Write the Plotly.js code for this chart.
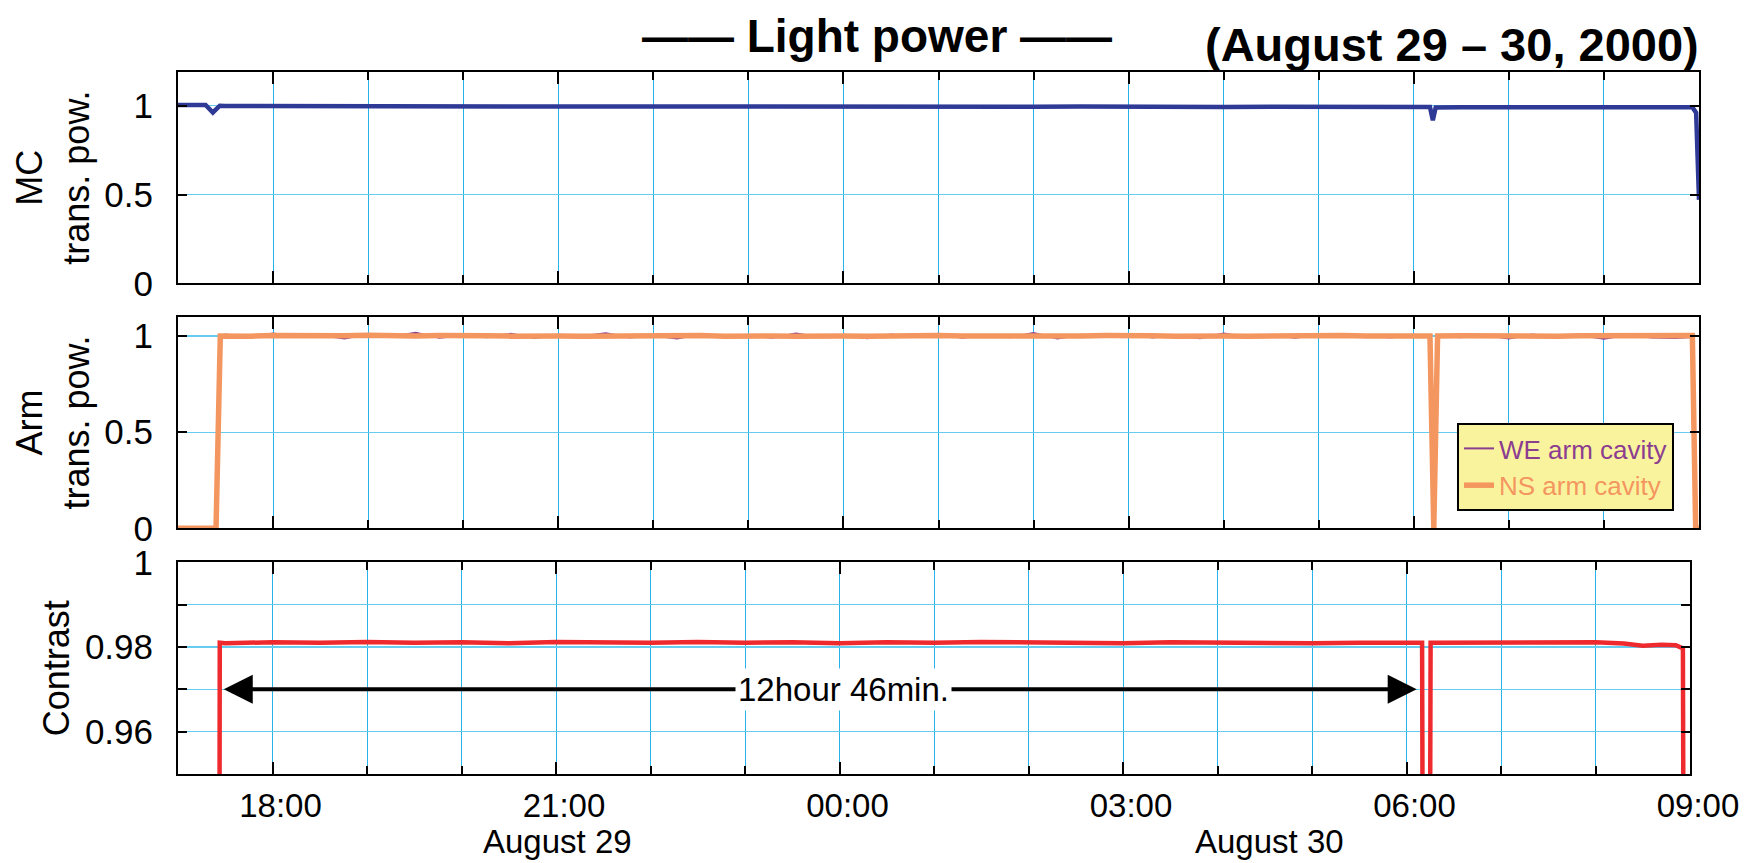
<!DOCTYPE html>
<html>
<head>
<meta charset="utf-8">
<script src="https://cdn.plot.ly/plotly-3.0.1.min.js"></script>
<style>html,body{margin:0;padding:0;background:#fff;}#chart{width:1753px;height:863px;}</style>
</head>
<body>
<div id="chart"></div>
<script>
// ---------- data (time in hours after 2000-08-29 17:00) ----------
const mcHours = [0, 0.29, 0.367, 0.44, 0.5,
  1, 1.5, 2, 2.5, 3, 3.5, 4, 4.5, 5, 5.5,
  6, 6.5, 7, 7.5, 8, 8.5, 9, 9.5, 10, 10.5,
  11, 11.5, 12, 12.5, 13,
  13.17, 13.2, 13.23,
  13.5, 14, 14.5, 15, 15.5,
  15.93, 15.97, 16];
const mcValues = [1.004, 1.004, 0.962, 1.000, 0.999,
  0.998, 0.999, 0.997, 0.998, 0.996, 0.997, 0.996, 0.997, 0.995, 0.996,
  0.995, 0.994, 0.995, 0.994, 0.995, 0.993, 0.994, 0.995, 0.993, 0.994,
  0.993, 0.994, 0.993, 0.994, 0.993,
  0.993, 0.918, 0.990,
  0.991, 0.990, 0.991, 0.990, 0.991,
  0.992, 0.960, 0.470];

const armHours = [0, 0.40, 0.445,
  0.5, 0.75, 1, 1.25, 1.5, 1.75, 2, 2.25, 2.5, 2.75,
  3, 3.25, 3.5, 3.75, 4, 4.25, 4.5, 4.75, 5, 5.25,
  5.5, 5.75, 6, 6.25, 6.5, 6.75, 7, 7.25, 7.5, 7.75,
  8, 8.25, 8.5, 8.75, 9, 9.25, 9.5, 9.75, 10, 10.25,
  10.5, 10.75, 11, 11.25, 11.5, 11.75, 12, 12.25, 12.5, 12.75,
  13,
  13.17, 13.21, 13.25,
  13.5, 13.75, 14, 14.25, 14.5, 14.75, 15, 15.25, 15.5, 15.75,
  15.93, 15.965, 16];
const weValues = [0, 0, 1.0,
  1.007, 0.991, 1.013, 0.995, 1.005, 0.987, 1.010, 0.996, 1.016, 0.990,
  1.003, 0.993, 1.011, 0.989, 1.006, 0.998, 1.014, 0.992, 1.002, 0.987,
  1.010, 0.995, 1.005, 0.990, 1.013, 0.993, 1.003, 0.988, 1.008, 0.997,
  1.011, 0.990, 1.005, 0.993, 1.015, 0.987, 1.006, 0.995, 1.010, 0.992,
  1.003, 0.988, 1.013, 0.993, 1.005, 0.990, 1.008, 0.995, 1.002, 0.992,
  1.006,
  1.0, 0, 1.0,
  0.993, 1.005, 0.987, 1.008, 0.990, 1.003, 0.986, 1.006, 0.992, 0.989,
  0.995, 0, 0];
const nsValues = [0, 0, 1.0,
  1.001, 0.999, 1.002, 1.000, 0.998, 1.001, 1.003, 0.999, 1.000, 1.002,
  0.998, 1.001, 0.999, 1.002, 1.000, 0.999, 1.001, 1.003, 0.999, 1.000,
  1.002, 0.998, 1.001, 1.000, 0.999, 1.002, 1.000, 0.998, 1.001, 0.999,
  1.002, 1.000, 0.999, 1.001, 1.003, 0.999, 1.000, 1.002, 0.998, 1.001,
  0.999, 1.002, 1.000, 0.999, 1.001, 1.000, 0.998, 1.002, 1.000, 0.999,
  1.001,
  1.0, 0, 1.0,
  1.001, 0.999, 1.002, 1.000, 0.999, 1.001, 1.000, 1.002, 0.999, 1.001,
  1.002, 0, 0];

const contrastHours = [0, 0.437, 0.442,
  0.5, 1, 1.5, 2, 2.5, 3, 3.5, 4, 4.5, 5,
  5.5, 6, 6.5, 7, 7.5, 8, 8.5, 9, 9.5, 10,
  10.5, 11, 11.5, 12, 12.5, 13,
  13.165, 13.175, 13.245, 13.255,
  13.5, 14, 14.5, 15, 15.3, 15.5, 15.7, 15.85, 15.9, 15.925, 15.935, 16];
const contrastValues = [0.90, 0.90, 0.9810,
  0.9809, 0.9811, 0.9810, 0.9812, 0.9810, 0.9811, 0.9809, 0.9812, 0.9811, 0.9810,
  0.9812, 0.9810, 0.9811, 0.9809, 0.9811, 0.9810, 0.9812, 0.9811, 0.9810, 0.9809,
  0.9811, 0.9810, 0.9811, 0.9809, 0.9810, 0.9810,
  0.9810, 0.90, 0.90, 0.9810,
  0.9810, 0.9809, 0.9810, 0.9811, 0.9808, 0.9803, 0.9805, 0.9804, 0.9799, 0.9797, 0.90, 0.90];

const seriesNames = ['MC trans. pow.', 'WE arm cavity', 'NS arm cavity', 'Contrast'];
const panelTitles = ['MC<br>trans. pow.', 'Arm<br>trans. pow.', 'Contrast'];
const contrastTickVals = [0.95, 0.96, 0.97, 0.98, 0.99, 1.0];
const contrastTickText = ['', '0.96', '', '0.98', '', '1'];
const powerTickVals = [0, 0.5, 1];
const powerTickText = ['0', '0.5', '1'];
const dateLabels = ['August 29', 'August 30'];
const dateLabelHours = [4.02, 11.55];
const spanHours = [0.484, 13.108];
const spanTextHour = 7.046;
const spanText = '12hour 46min.';
const spanLevel = 0.97;

// ---------- helpers ----------
function pad(n){ return (n < 10 ? '0' : '') + n; }
function toDate(h){
  const total = Math.round((17 + h) * 3600);
  const day = 29 + Math.floor(total / 86400);
  const s = total % 86400;
  return '2000-08-' + day + ' ' + pad(Math.floor(s / 3600)) + ':' + pad(Math.floor((s % 3600) / 60)) + ':' + pad(s % 60);
}
const L = 178, R = 1699, T = 72, B = 774;
const W = R - L, H = B - T;
function px(x){ return (x - L) / W; }
function py(y){ return (B - y) / H; }
function dom(top, bottom){ return [Math.max(0, py(bottom)), Math.min(1, py(top))]; }

const FONT = 'Liberation Sans, Arial, Helvetica, sans-serif';
const XGRID = '#25b3e8', YGRID = '#66ccf0';
const xRange = [toDate(0), toDate(16)];

function xAxis(domain, anchor, labels){
  return {
    domain: domain, anchor: anchor, type: 'date', range: xRange,
    tick0: '2000-08-29 00:00:00', dtick: 3 * 3600000, tickformat: '%H:%M',
    ticks: 'inside', ticklen: 12, tickwidth: 2, tickcolor: '#000',
    showticklabels: labels, tickfont: {family: FONT, size: 33, color: '#000'},
    ticklabelshift: 8, ticklabelstandoff: 1,
    showgrid: true, gridcolor: XGRID, gridwidth: 1,
    minor: {dtick: 3600000, tick0: '2000-08-29 00:00:00', ticks: 'inside', ticklen: 8, tickwidth: 2, tickcolor: '#000',
            showgrid: true, gridcolor: XGRID, gridwidth: 1},
    showline: true, linecolor: '#000', linewidth: 2, mirror: 'allticks', zeroline: false
  };
}
function yAxis(domain, anchor, range, tv, tt, title){
  return {
    domain: domain, anchor: anchor, range: range,
    tickmode: 'array', tickvals: tv, ticktext: tt,
    ticks: 'inside', ticklen: 9, tickwidth: 2, tickcolor: '#000',
    tickfont: {family: FONT, size: 35, color: '#000'}, ticklabelstandoff: 16,
    showgrid: true, gridcolor: YGRID, gridwidth: 1.2,
    showline: true, linecolor: '#000', linewidth: 2, mirror: 'allticks', zeroline: false,
    title: {text: title, font: {family: FONT, size: 36, color: '#000'}, standoff: 4}
  };
}

const traces = [
  {x: mcHours.map(toDate), y: mcValues, xaxis: 'x', yaxis: 'y', type: 'scatter', mode: 'lines',
   name: seriesNames[0], showlegend: false, line: {color: '#2e3a96', width: 4.5}},
  {x: armHours.map(toDate), y: weValues, xaxis: 'x2', yaxis: 'y2', type: 'scatter', mode: 'lines',
   name: '<span style="color:#8b3d8f">' + seriesNames[1] + '</span>', line: {color: '#8b3d8f', width: 2}},
  {x: armHours.map(toDate), y: nsValues, xaxis: 'x2', yaxis: 'y2', type: 'scatter', mode: 'lines',
   name: '<span style="color:#f4965f">' + seriesNames[2] + '</span>', line: {color: '#f4965f', width: 5.5}},
  {x: contrastHours.map(toDate), y: contrastValues, xaxis: 'x3', yaxis: 'y3', type: 'scatter', mode: 'lines',
   name: seriesNames[3], showlegend: false, line: {color: '#ee2a2e', width: 4.5}}
];

const annotations = [
  {text: '<b>(August 29 – 30, 2000)</b>', xref: 'paper', yref: 'paper', x: px(1452), y: py(44),
   xanchor: 'center', yanchor: 'middle', showarrow: false, font: {family: FONT, size: 47, color: '#000'}},
  {x: toDate(spanHours[0]), y: spanLevel, ax: toDate(spanTextHour), ay: spanLevel,
   xref: 'x3', yref: 'y3', axref: 'x3', ayref: 'y3', text: '', showarrow: true,
   arrowhead: 2, arrowsize: 1.45, arrowwidth: 4, arrowcolor: '#000', standoff: 0, startstandoff: 0},
  {x: toDate(spanHours[1]), y: spanLevel, ax: toDate(spanTextHour), ay: spanLevel,
   xref: 'x3', yref: 'y3', axref: 'x3', ayref: 'y3', text: '', showarrow: true,
   arrowhead: 2, arrowsize: 1.45, arrowwidth: 4, arrowcolor: '#000', standoff: 0, startstandoff: 0},
  {x: toDate(spanTextHour), y: spanLevel, xref: 'x3', yref: 'y3', text: spanText, showarrow: false,
   bgcolor: '#fff', borderpad: 2, font: {family: FONT, size: 33, color: '#000'}}
];
dateLabels.forEach(function(t, i){
  annotations.push({text: t, xref: 'x3', yref: 'paper', x: toDate(dateLabelHours[i]), y: py(841),
    xanchor: 'center', yanchor: 'middle', showarrow: false, font: {family: FONT, size: 33, color: '#000'}});
});

const layout = {
  width: 1753, height: 863,
  margin: {l: L, r: 1753 - R, t: T, b: 863 - B, pad: 0},
  paper_bgcolor: '#fff', plot_bgcolor: '#fff',
  font: {family: FONT, color: '#000'},
  title: {text: '<b>—— Light power ——</b>', xref: 'container', yref: 'container', x: 877 / 1753, y: 1 - 36 / 863,
          xanchor: 'center', yanchor: 'middle', font: {family: FONT, size: 46, color: '#000'}},
  showlegend: true,
  legend: {x: px(1457), y: py(423), xanchor: 'left', yanchor: 'top', bgcolor: '#faf39e',
           bordercolor: '#000', borderwidth: 2, font: {family: FONT, size: 26}, traceorder: 'normal'},
  xaxis: xAxis([0, 1], 'y', false),
  xaxis2: xAxis([0, 1], 'y2', false),
  xaxis3: xAxis([0, (1690 - L) / W], 'y3', true),
  yaxis: yAxis(dom(72, 283.3), 'x', [0, 1.19], powerTickVals, powerTickText, panelTitles[0]),
  yaxis2: yAxis(dom(316.7, 528.3), 'x2', [0, 1.1], powerTickVals, powerTickText, panelTitles[1]),
  yaxis3: yAxis(dom(562.3, 774), 'x3', [0.95, 1.0], contrastTickVals, contrastTickText, panelTitles[2]),
  annotations: annotations
};

Plotly.newPlot('chart', traces, layout, {displayModeBar: false, staticPlot: true});
</script>
</body>
</html>
